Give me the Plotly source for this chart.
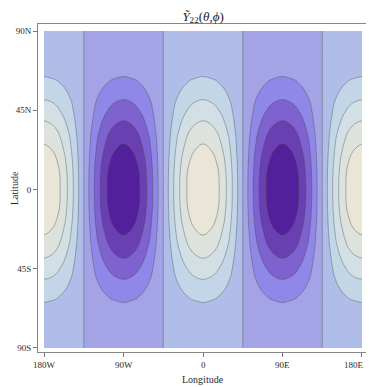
import plotly.graph_objects as go

# grid: 7.5 degree steps in longitude, 15 in latitude
lons = [-180 + 7.5 * k for k in range(49)]
lats = [90, 75, 60, 45, 30, 15, 0, -15, -30, -45, -60, -75, -90]

# estimated field values, one row per latitude band (north to south)
row_90 = [0.01, 0.01, 0.01, 0.01, 0.01, 0.01, 0, -0.01, -0.01, -0.01, -0.01, -0.01, -0.01,
          -0.01, -0.01, -0.01, -0.01, -0.01, 0, 0.01, 0.01, 0.01, 0.01, 0.01, 0.01,
          0.01, 0.01, 0.01, 0.01, 0.01, 0, -0.01, -0.01, -0.01, -0.01, -0.01, -0.01,
          -0.01, -0.01, -0.01, -0.01, -0.01, 0, 0.01, 0.01, 0.01, 0.01, 0.01, 0.01]
row_75 = [0.07, 0.06, 0.06, 0.05, 0.03, 0.02, 0, -0.02, -0.03, -0.05, -0.06, -0.06, -0.07,
          -0.06, -0.06, -0.05, -0.03, -0.02, 0, 0.02, 0.03, 0.05, 0.06, 0.06, 0.07,
          0.06, 0.06, 0.05, 0.03, 0.02, 0, -0.02, -0.03, -0.05, -0.06, -0.06, -0.07,
          -0.06, -0.06, -0.05, -0.03, -0.02, 0, 0.02, 0.03, 0.05, 0.06, 0.06, 0.07]
row_60 = [0.25, 0.24, 0.22, 0.18, 0.13, 0.06, 0, -0.06, -0.13, -0.18, -0.22, -0.24, -0.25,
          -0.24, -0.22, -0.18, -0.13, -0.06, 0, 0.06, 0.13, 0.18, 0.22, 0.24, 0.25,
          0.24, 0.22, 0.18, 0.13, 0.06, 0, -0.06, -0.13, -0.18, -0.22, -0.24, -0.25,
          -0.24, -0.22, -0.18, -0.13, -0.06, 0, 0.06, 0.13, 0.18, 0.22, 0.24, 0.25]
row_45 = [0.5, 0.48, 0.43, 0.35, 0.25, 0.13, 0, -0.13, -0.25, -0.35, -0.43, -0.48, -0.5,
          -0.48, -0.43, -0.35, -0.25, -0.13, 0, 0.13, 0.25, 0.35, 0.43, 0.48, 0.5,
          0.48, 0.43, 0.35, 0.25, 0.13, 0, -0.13, -0.25, -0.35, -0.43, -0.48, -0.5,
          -0.48, -0.43, -0.35, -0.25, -0.13, 0, 0.13, 0.25, 0.35, 0.43, 0.48, 0.5]
row_30 = [0.75, 0.72, 0.65, 0.53, 0.38, 0.19, 0, -0.19, -0.38, -0.53, -0.65, -0.72, -0.75,
          -0.72, -0.65, -0.53, -0.38, -0.19, 0, 0.19, 0.38, 0.53, 0.65, 0.72, 0.75,
          0.72, 0.65, 0.53, 0.38, 0.19, 0, -0.19, -0.38, -0.53, -0.65, -0.72, -0.75,
          -0.72, -0.65, -0.53, -0.38, -0.19, 0, 0.19, 0.38, 0.53, 0.65, 0.72, 0.75]
row_15 = [0.93, 0.9, 0.81, 0.66, 0.47, 0.24, 0, -0.24, -0.47, -0.66, -0.81, -0.9, -0.93,
          -0.9, -0.81, -0.66, -0.47, -0.24, 0, 0.24, 0.47, 0.66, 0.81, 0.9, 0.93,
          0.9, 0.81, 0.66, 0.47, 0.24, 0, -0.24, -0.47, -0.66, -0.81, -0.9, -0.93,
          -0.9, -0.81, -0.66, -0.47, -0.24, 0, 0.24, 0.47, 0.66, 0.81, 0.9, 0.93]
row_0 = [1.0, 0.97, 0.87, 0.71, 0.5, 0.26, 0, -0.26, -0.5, -0.71, -0.87, -0.97, -1.0,
         -0.97, -0.87, -0.71, -0.5, -0.26, 0, 0.26, 0.5, 0.71, 0.87, 0.97, 1.0,
         0.97, 0.87, 0.71, 0.5, 0.26, 0, -0.26, -0.5, -0.71, -0.87, -0.97, -1.0,
         -0.97, -0.87, -0.71, -0.5, -0.26, 0, 0.26, 0.5, 0.71, 0.87, 0.97, 1.0]
z = [row_90, row_75, row_60, row_45, row_30, row_15, row_0,
     row_15, row_30, row_45, row_60, row_75, row_90]
assert all(len(r) == len(lons) for r in z)

# band colours, lowest to highest
band_colors = ["#52209a", "#6a3fb2", "#7e62cf", "#8f88e8", "#a3a3e6",
               "#b0bde8", "#c2d6e8", "#d2e0e6", "#dde2dc", "#e9e5d7"]

lon_ticks = [-180, -90, 0, 90, 180]
lon_labels = ["180W", "90W", "0", "90E", "180E"]
lat_ticks = [90, 45, 0, -45, -90]
lat_labels = ["90N", "45N", "0", "45S", "90S"]

n = len(band_colors)
cscale = [[i / (n - 1), c] for i, c in enumerate(band_colors)]

fig = go.Figure(go.Contour(
    x=lons, y=lats, z=z,
    colorscale=cscale, showscale=False,
    contours=dict(start=-0.8, end=0.8, size=0.2, coloring="fill"),
    line=dict(color="rgba(70,70,70,0.65)", width=0.6, smoothing=1.3),
    hoverinfo="skip",
))

serif = "Liberation Serif"
txt = "#2a2a2a"

# longitude tick labels as annotations so the last one can sit flush right
annots = []
for i, (v, lab) in enumerate(zip(lon_ticks, lon_labels)):
    last = i == len(lon_ticks) - 1
    annots.append(dict(text=lab, x=v, xref="x", y=0, yref="paper",
                       xanchor="right" if last else "center", xshift=4 if last else 0,
                       yanchor="top", yshift=-6, showarrow=False,
                       font=dict(family=serif, size=9, color=txt)))
annots.append(dict(text="Longitude", xref="paper", yref="paper", x=0.5, y=0,
                   xanchor="center", yanchor="middle", yshift=-27, showarrow=False,
                   font=dict(family=serif, size=10, color=txt)))
annots.append(dict(text="Latitude", xref="paper", yref="paper", x=0, y=0.5,
                   xanchor="center", yanchor="middle", xshift=-24, textangle=-90,
                   showarrow=False, font=dict(family=serif, size=10, color=txt)))

# page body has an 8px margin, so the figure is offset by that much
fig.update_layout(
    width=366, height=379,
    margin=dict(l=30, r=6, t=16, b=35),
    paper_bgcolor="white", plot_bgcolor="white",
    font=dict(family=serif, size=9, color=txt),
    title=dict(text="<i>Y\u0303</i><sub>22</sub>(<i>θ</i>,<i>ϕ</i>)",
               x=0.533, xanchor="center", y=0.967, yanchor="bottom",
               font=dict(family=serif, size=13, color="#222")),
    annotations=annots,
)
fig.update_xaxes(range=[-186.8, 186.8], tickvals=lon_ticks, showticklabels=False,
                 ticks="outside", ticklen=4, tickcolor="#777",
                 showline=True, linecolor="#888", linewidth=1, mirror=True,
                 showgrid=False, zeroline=False, automargin=False)
fig.update_yaxes(range=[-92.3, 94.0], tickvals=lat_ticks, ticktext=lat_labels,
                 ticks="outside", ticklen=4, tickcolor="#777",
                 showline=True, linecolor="#888", linewidth=1, mirror=True,
                 showgrid=False, zeroline=False, automargin=False)

fig.write_html("out.html")
